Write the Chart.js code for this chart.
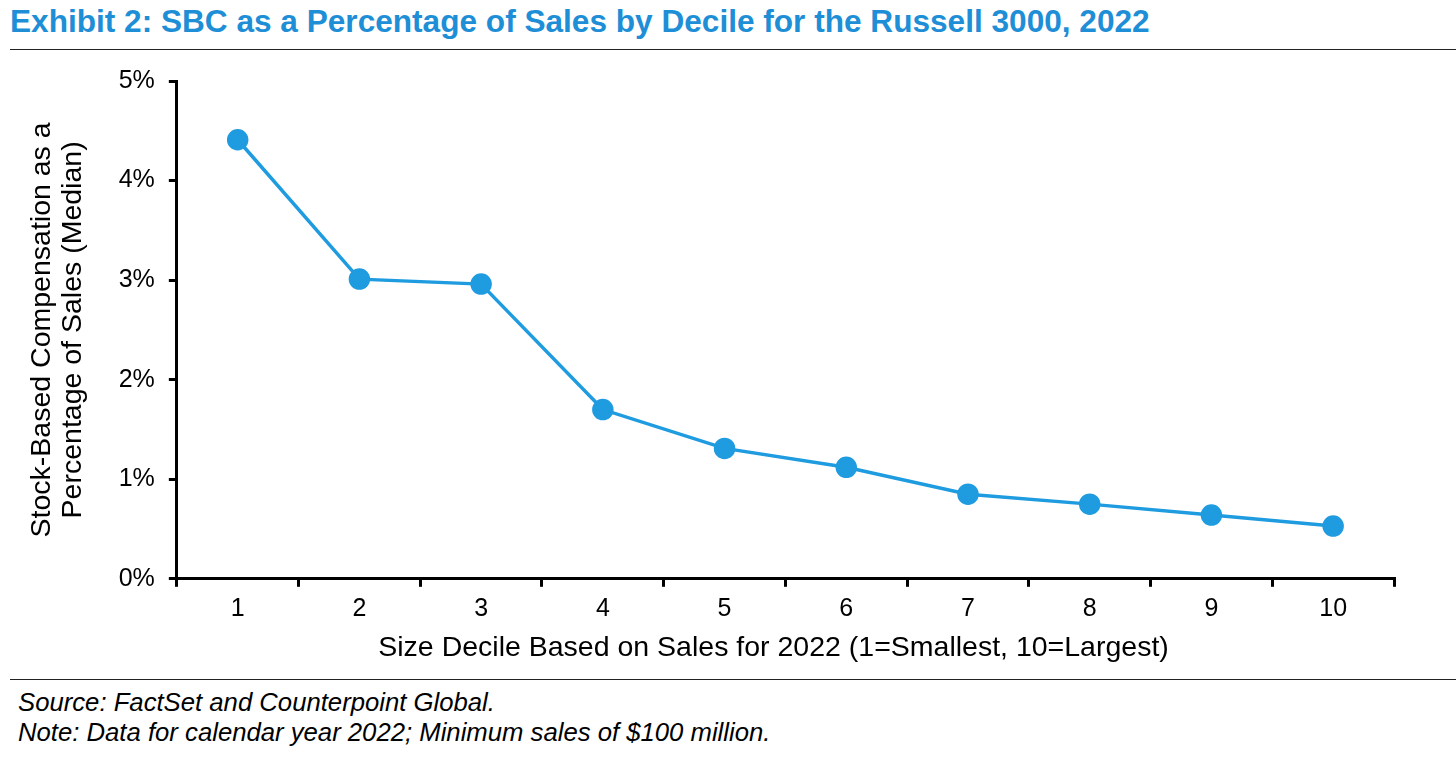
<!DOCTYPE html>
<html>
<head>
<meta charset="utf-8">
<script src="https://cdn.jsdelivr.net/npm/chart.js@4.4.1/dist/chart.umd.min.js"></script>
<style>
	body { margin:0; background:#fff; font-family:"Liberation Sans", Arial, sans-serif; }
	#title { position:absolute; left:10px; top:3px; font-size:31.6px; font-weight:bold; color:#1e8ed6; white-space:nowrap; }
	#topline { position:absolute; left:10px; right:0; top:49px; height:0; border-top:1.5px solid #222; }
	#chart_box { position:absolute; left:0; top:52px; width:1456px; height:617px; }
	#botline { position:absolute; left:10px; right:0; top:679px; height:0; border-top:1.5px solid #222; }
	.note { position:absolute; left:18px; font-size:25.7px; font-style:italic; color:#000; white-space:nowrap; }
</style>
</head>
<body>
<div id="title">Exhibit 2: SBC as a Percentage of Sales by Decile for the Russell 3000, 2022</div>
<div id="topline"></div>
<div id="chart_box"><canvas id="sbc_chart"></canvas></div>
<div id="botline"></div>
<div class="note" style="top:688px">Source: FactSet and Counterpoint Global.</div>
<div class="note" style="top:718px">Note: Data for calendar year 2022; Minimum sales of $100 million.</div>
<script>
var deciles = ["1","2","3","4","5","6","7","8","9","10"];
var sbcPct = [4.41, 3.01, 2.96, 1.70, 1.31, 1.12, 0.85, 0.75, 0.64, 0.53];
var yTicks = [0, 1, 2, 3, 4, 5];

var lineColor = "#1f9be0";

var ctx = document.getElementById("sbc_chart");
var sbcChart = new Chart(ctx, {
	type: 'line',
	data: {
		labels: deciles,
		datasets: [{
			data: sbcPct,
			borderColor: lineColor,
			backgroundColor: lineColor,
			borderWidth: 3.5,
			pointRadius: 9,
			pointHoverRadius: 9,
			tension: 0
		}]
	},
	options: {
		responsive: true,
		maintainAspectRatio: false,
		animation: false,
		layout: { padding: { top: 2, right: 62, left: 22, bottom: 0 } },
		plugins: { legend: { display: false }, tooltip: { enabled: false } },
		scales: {
			x: {
				offset: true,
				grid: { offset: true, drawOnChartArea: false, drawTicks: true, tickLength: 8, color: "#000", lineWidth: 3 },
				border: { color: "#000", width: 3 },
				ticks: { color: "#000", font: { family: "Liberation Sans", size: 25 }, padding: 7 },
				// trailing nbsp's nudge the title a bit left, like the original
				title: { display: true, text: "Size Decile Based on Sales for 2022 (1=Smallest, 10=Largest)\u00a0\u00a0\u00a0", color: "#000", font: { family: "Liberation Sans", size: 28.5 }, padding: { top: 0 } }
			},
			y: {
				min: 0,
				max: 5,
				afterBuildTicks: function(axis) { axis.ticks = yTicks.map(function(v) { return { value: v }; }); },
				grid: { drawOnChartArea: false, drawTicks: true, tickLength: 8, color: "#000", lineWidth: 3 },
				border: { color: "#000", width: 3 },
				ticks: { color: "#000", font: { family: "Liberation Sans", size: 25 }, padding: 14, callback: function(v) { return v + "%"; } },
				title: { display: true, text: ["Stock-Based Compensation as a", "Percentage of Sales (Median)"], color: "#000", font: { family: "Liberation Sans", size: 28.5, lineHeight: 1.1 }, padding: { bottom: 16 } }
			}
		}
	}
});
</script>
</body>
</html>
